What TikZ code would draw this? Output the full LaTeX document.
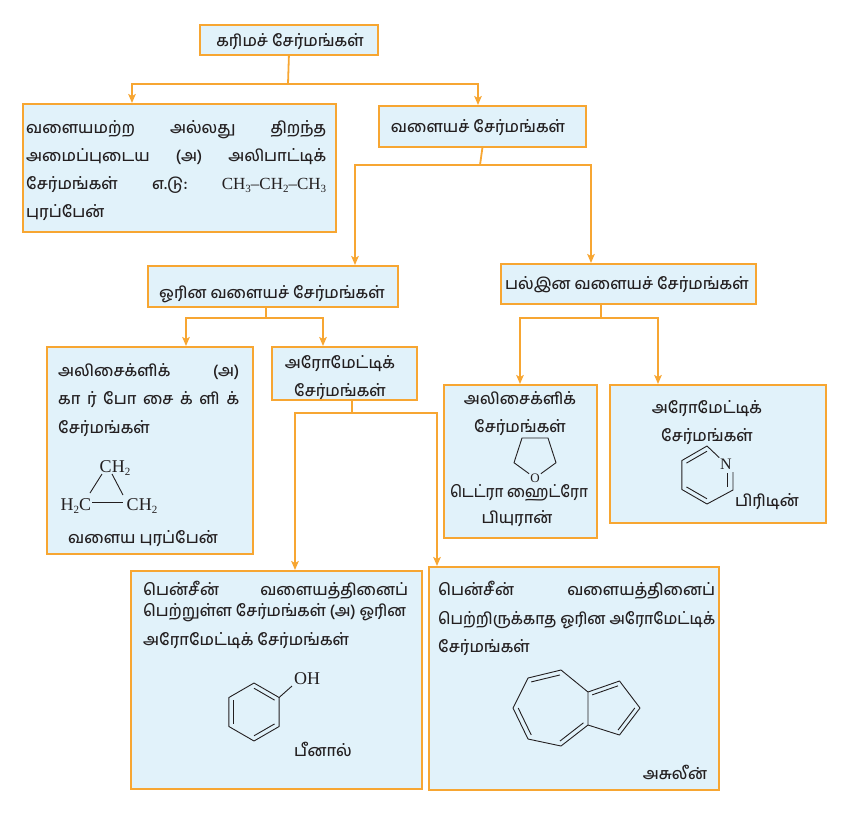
\documentclass[tikz,border=0pt]{standalone}
\usepackage{fontspec}
\usepackage{graphicx}
\setmainfont{Hind Madurai}[Script=Tamil, UprightFont=* Medium]
\newfontfamily\chemfont{Liberation Serif}
\usetikzlibrary{arrows.meta,calc}
\definecolor{boxfill}{RGB}{225,242,250}
\definecolor{boxline}{RGB}{247,166,50}
\definecolor{txt}{RGB}{35,31,32}
\newcommand\chsub[1]{\raisebox{-0.45ex}{\fontsize{11}{11}\selectfont #1}}
\newsavebox\jlinebox
\newcommand\jline[2]{\sbox\jlinebox{#2}\ifdim\wd\jlinebox>#1\relax\resizebox{#1}{\height}{\usebox\jlinebox}\else\hbox to #1{#2}\fi}
\tikzset{
  box/.style={draw=boxline, fill=boxfill, line width=1.8pt, rectangle, inner sep=0pt, anchor=north west},
  conn/.style={draw=boxline, line width=1.8pt},
  arr/.style={conn, -{Stealth[length=9pt,width=7.5pt,inset=2pt]}},
  ta/.style={font=\fontsize{16}{19}\selectfont, text=txt, inner sep=0pt},
  ch/.style={font=\chemfont\fontsize{18}{20}\selectfont, text=txt, inner sep=0pt},
  bond/.style={draw=txt, line width=0.9pt},
}
\begin{document}
\begin{tikzpicture}[x=1pt,y=-1pt]
\useasboundingbox (0,0) rectangle (848,812);
% ---------- boxes ----------
\node[box, minimum width=178pt, minimum height=30pt] (b1) at (199,24) {};
\node[box, minimum width=313pt, minimum height=128pt] (b2) at (22,103) {};
\node[box, minimum width=207pt, minimum height=41pt] (b3) at (378,105) {};
\node[box, minimum width=250pt, minimum height=41pt] (b4) at (147,265) {};
\node[box, minimum width=255pt, minimum height=40pt] (b5) at (500,263) {};
\node[box, minimum width=206pt, minimum height=207pt] (b6) at (46,346) {};
\node[box, minimum width=145pt, minimum height=53pt] (b7) at (271,346) {};
\node[box, minimum width=291pt, minimum height=218pt] (b8) at (130,570) {};
\node[box, minimum width=290pt, minimum height=223pt] (b9) at (428,566) {};
\node[box, minimum width=153pt, minimum height=153pt] (b10) at (443,384) {};
\node[box, minimum width=216pt, minimum height=138pt] (b11) at (609,384) {};
% ---------- connectors ----------
\coordinate (j1) at (288,84);
\coordinate (e2) at (132,103);
\coordinate (e3) at (478,105);
\draw[conn] (b1.south) -- (j1);
\draw[arr] (j1) -| (e2);
\draw[arr] (j1) -| (e3);
\coordinate (j2) at (480,165);
\coordinate (e4) at (355,265);
\coordinate (e5) at (591,263);
\draw[conn] (b3.south) -- (j2);
\draw[arr] (j2) -| (e4);
\draw[arr] (j2) -| (e5);
\coordinate (s4) at (266,306);
\coordinate (j3) at (266,318);
\coordinate (e6) at (186,346);
\coordinate (e7) at (323,346);
\draw[conn] (s4) -- (j3);
\draw[arr] (j3) -| (e6);
\draw[arr] (j3) -| (e7);
\coordinate (s7) at (352,399);
\coordinate (j4) at (352,413);
\coordinate (e8) at (295,570);
\coordinate (e9) at (437,566);
\draw[conn] (s7) -- (j4);
\draw[arr] (j4) -| (e8);
\draw[arr] (j4) -| (e9);
\coordinate (s5) at (601,303);
\coordinate (j5) at (601,318);
\coordinate (e10) at (520,384);
\coordinate (e11) at (658,384);
\draw[conn] (s5) -- (j5);
\draw[arr] (j5) -| (e10);
\draw[arr] (j5) -| (e11);
% ---------- texts ----------
\node[ta, anchor=base] (t1) at (290,46) {கரிமச் சேர்மங்கள்};
\node[ta, anchor=base west] (t2a) at (26,133) {\jline{300pt}{வளையமற்ற\hfill அல்லது\hfill திறந்த}};
\node[ta, anchor=base west] (t2b) at (26,161) {\jline{300pt}{அமைப்புடைய\hfill (அ)\hfill அலிபாட்டிக்}};
\node[ta, anchor=base west] (t2c) at (26,189) {\jline{300pt}{சேர்மங்கள்\hfill எ.டு:\hfill{\chemfont\fontsize{17}{20}\selectfont CH\chsub{3}–CH\chsub{2}–CH\chsub{3}}}};
\node[ta, anchor=base west] (t2d) at (26,217) {புரப்பேன்};
\node[ta, anchor=base] (t3) at (478,132) {வளையச் சேர்மங்கள்};
\node[ta, anchor=base] (t4) at (272,298) {ஓரின வளையச் சேர்மங்கள்};
\node[ta, anchor=base] (t5) at (627,289) {பல்இன வளையச் சேர்மங்கள்};
\node[ta, anchor=base west] (t6a) at (58,376) {\jline{181pt}{அலிசைக்ளிக்\hfill (அ)}};
\node[ta, anchor=base west] (t6b) at (58,404) {\jline{181pt}{கா\hfill ர்\hfill போ\hfill சை\hfill க்\hfill ளி\hfill க்}};
\node[ta, anchor=base west] (t6c) at (58,433) {சேர்மங்கள்};
\node[ta, anchor=base] (t6d) at (143,543) {வளைய புரப்பேன்};
\node[ta, anchor=base] (t7a) at (340,368) {அரோமேட்டிக்};
\node[ta, anchor=base] (t7b) at (340,396) {சேர்மங்கள்};
\node[ta, anchor=base] (t10a) at (520,404) {அலிசைக்ளிக்};
\node[ta, anchor=base] (t10b) at (520,432) {சேர்மங்கள்};
\node[ta, anchor=base] (t10c) at (519,497) {\jline{138pt}{டெட்ரா ஹைட்ரோ}};
\node[ta, anchor=base] (t10d) at (517,523) {பியுரான்};
\node[ta, anchor=base] (t11a) at (707,413) {அரோமேட்டிக்};
\node[ta, anchor=base] (t11b) at (707,441) {சேர்மங்கள்};
\node[ta, anchor=base] (t11c) at (767,506) {பிரிடின்};
\node[ta, anchor=base west] (t8a) at (143,595) {\jline{265pt}{பென்சீன்\hfill வளையத்தினைப்}};
\node[ta, anchor=base west] (t8b) at (143,616) {\jline{263pt}{பெற்றுள்ள சேர்மங்கள் (அ) ஓரின}};
\node[ta, anchor=base west] (t8c) at (143,645) {அரோமேட்டிக் சேர்மங்கள்};
\node[ta, anchor=base] (t8d) at (323,756) {பீனால்};
\node[ta, anchor=base west] (t9a) at (438,595) {\jline{277pt}{பென்சீன்\hfill வளையத்தினைப்}};
\node[ta, anchor=base west] (t9b) at (438,624) {\jline{277pt}{பெற்றிருக்காத ஓரின அரோமேட்டிக்}};
\node[ta, anchor=base west] (t9c) at (438,652) {சேர்மங்கள்};
\node[ta, anchor=base] (t9d) at (675,779) {அசுலீன்};
% ---------- cyclopropane ----------
\node[ch] (cpT) at (115,468) {CH\chsub{2}};
\node[ch] (cpL) at (76,506) {H\chsub{2}C};
\node[ch] (cpR) at (142,506) {CH\chsub{2}};
\draw[bond] (90,493) -- (102,474);
\draw[bond] (112,474) -- (123,495);
\draw[bond] (92,502) -- (123,502);
% ---------- THF ----------
\coordinate (f1) at (522,438);
\coordinate (f2) at (548,438);
\coordinate (f3) at (556,462.7);
\coordinate (f5) at (514,462.7);
\node[ch, font=\chemfont\fontsize{13}{14}\selectfont, inner sep=1pt] (fO) at (535,478) {O};
\draw[bond, line join=round] (fO) -- (f3) -- (f2) -- (f1) -- (f5) -- (fO);
% ---------- pyridine ----------
\coordinate (yc) at (707,475);
\coordinate (y1) at (707,446);
\coordinate (y3) at (733,490);
\coordinate (y4) at (707,504);
\coordinate (y5) at (681.9,489.5);
\coordinate (y6) at (681.9,460.5);
\node[ch, font=\chemfont\fontsize{16}{18}\selectfont, inner sep=1pt] (yN) at (726,464) {N};
\draw[bond, line join=round] (yN) -- (y1) -- (y6) -- (y5) -- (y4) -- (y3) -- (733,472);
\draw[bond] ($(yc)!0.82!(y6)$) -- ($(yc)!0.82!(y1)$);
\draw[bond] ($(yc)!0.82!(y5)$) -- ($(yc)!0.82!(y4)$);
\draw[bond] (727.5,473) -- (727.5,487);
% ---------- phenol ----------
\coordinate (pc) at (254,712);
\coordinate (p1) at (254,683);
\coordinate (p2) at (279.1,697.5);
\coordinate (p3) at (279.1,726.5);
\coordinate (p4) at (254,741);
\coordinate (p5) at (228.9,726.5);
\coordinate (p6) at (228.9,697.5);
\draw[bond, line join=round] (p1) -- (p2) -- (p3) -- (p4) -- (p5) -- (p6) -- cycle;
\draw[bond] ($(pc)!0.82!(p1)$) -- ($(pc)!0.82!(p2)$);
\draw[bond] ($(pc)!0.82!(p3)$) -- ($(pc)!0.82!(p4)$);
\draw[bond] ($(pc)!0.82!(p5)$) -- ($(pc)!0.82!(p6)$);
\node[ch] (pOH) at (307,679) {OH};
\draw[bond] (p2) -- (292,686);
% ---------- azulene ----------
\coordinate (hc) at (553,708);
\coordinate (qc) at (611,708);
\coordinate (a1) at (528,678);
\coordinate (a2) at (561,670);
\coordinate (a3) at (588,692);
\coordinate (a4) at (588,725);
\coordinate (a5) at (561,746);
\coordinate (a6) at (528,739);
\coordinate (a7) at (513,708);
\coordinate (q1) at (619.5,681);
\coordinate (q2) at (640,708);
\coordinate (q3) at (619.5,735);
\draw[bond, line join=round] (a1) -- (a2) -- (a3) -- (a4) -- (a5) -- (a6) -- (a7) -- cycle;
\draw[bond, line join=round] (a3) -- (q1) -- (q2) -- (q3) -- (a4);
\draw[bond] ($(hc)!0.87!(a1)$) -- ($(hc)!0.87!(a2)$);
\draw[bond] ($(hc)!0.87!(a7)$) -- ($(hc)!0.87!(a6)$);
\draw[bond] ($(hc)!0.87!(a5)$) -- ($(hc)!0.87!(a4)$);
\draw[bond] ($(qc)!0.82!(a3)$) -- ($(qc)!0.82!(q1)$);
\draw[bond] ($(qc)!0.82!(q2)$) -- ($(qc)!0.82!(q3)$);
\end{tikzpicture}
\end{document}
